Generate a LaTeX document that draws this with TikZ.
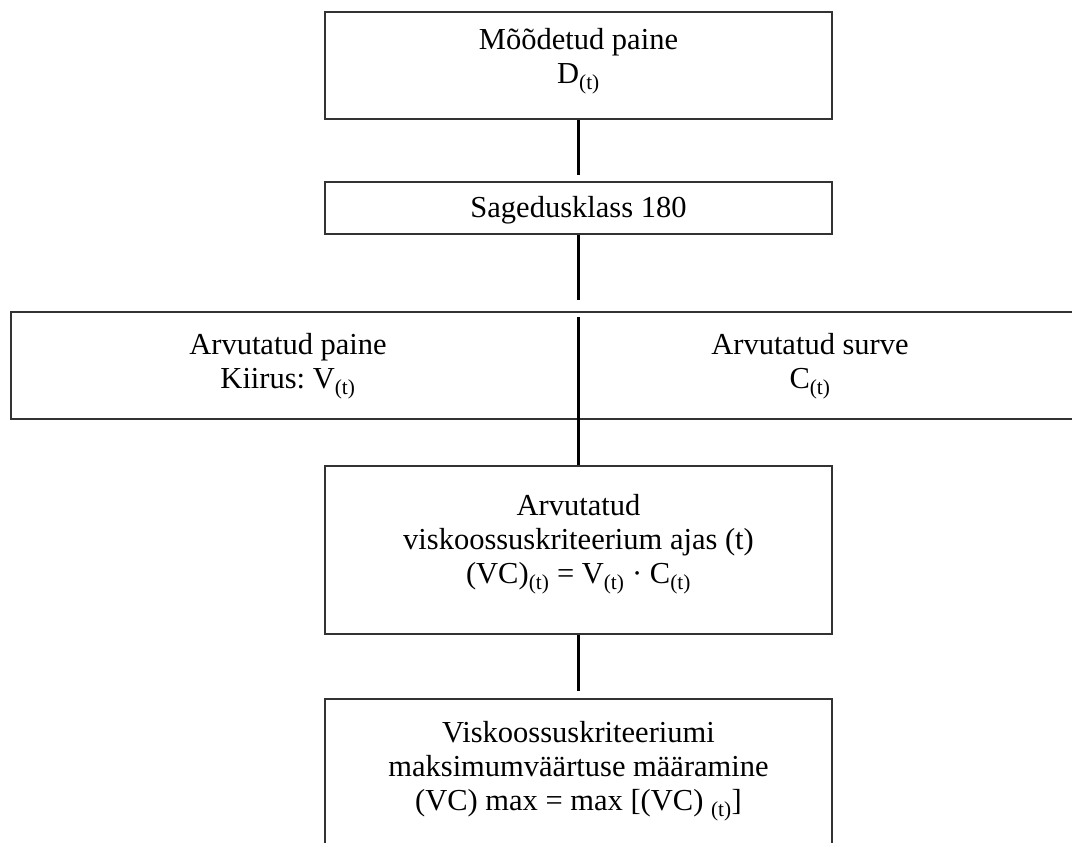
\documentclass[tikz,border=0pt]{standalone}
\usepackage{fontspec}
\setmainfont{Liberation Serif}
\frenchspacing
\begin{document}
\begin{tikzpicture}[x=1pt,y=-1pt,
  box/.style={draw=black!80, line width=2.6pt, rectangle, inner sep=0pt},
  txt/.style={font=\fontsize{30.5}{34}\selectfont, align=center, inner sep=0pt},
  conn/.style={draw=black, line width=2.2pt}]
\useasboundingbox (0,0) rectangle (1072,843);
% boxes
\node[box, minimum width=507pt, minimum height=107pt] (b1) at (578.5,65.5) {};
\node[box, minimum width=507pt, minimum height=52pt] (b2) at (578.5,208) {};
\node[box, minimum width=1079pt, minimum height=107pt] (b3) at (550.5,365.5) {};
\node[box, minimum width=507pt, minimum height=168pt] (b4) at (578.5,550) {};
\node[box, minimum width=507pt, minimum height=162pt] (b5) at (578.5,780) {};
% texts
\node[txt] (t1) at (578.5,61) {Mõõdetud paine\\D\textsubscript{(t)}};
\node[txt] (t2) at (578.5,210) {Sagedusklass 180};
\node[txt] (t3a) at (288,366) {Arvutatud paine\\Kiirus: V\textsubscript{(t)}};
\node[txt] (t3b) at (810,366) {Arvutatud surve\\C\textsubscript{(t)}};
\node[txt] (t4) at (578.5,544) {Arvutatud\\viskoossuskriteerium ajas (t)\\(VC)\textsubscript{(t)} = V\textsubscript{(t)} · C\textsubscript{(t)}};
\node[txt] (t5) at (578.5,771) {Viskoossuskriteeriumi\\maksimumväärtuse määramine\\(VC) max = max [(VC) \textsubscript{(t)}]};
% connector free ends
\coordinate (e1) at (578.5,175);
\coordinate (e2) at (578.5,300);
\coordinate (s3) at (578.5,317);
\coordinate (e3) at (578.5,465);
\coordinate (e4) at (578.5,691);
\draw[conn] (b1.south) -- (e1);
\draw[conn] (b2.south) -- (e2);
\draw[conn] (s3) -- (e3);
\draw[conn] (b4.south) -- (e4);
\end{tikzpicture}
\end{document}
